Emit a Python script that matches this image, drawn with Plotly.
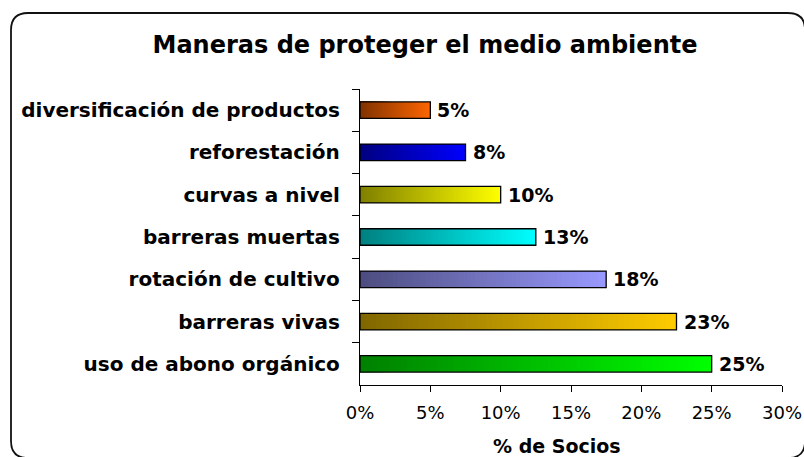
import plotly.graph_objects as go

# ---------------- data ----------------
categories = ["diversificación de productos", "reforestación", "curvas a nivel",
              "barreras muertas", "rotación de cultivo", "barreras vivas",
              "uso de abono orgánico"]
values = [0.05, 0.075, 0.10, 0.125, 0.175, 0.225, 0.25]
value_labels = ["5%", "8%", "10%", "13%", "18%", "23%", "25%"]
bar_colors = ["#FF6600", "#0000FF", "#FFFF00", "#00FFFF", "#9999FF", "#FFCC00", "#00FF00"]
x_tick_vals = [0, 0.05, 0.10, 0.15, 0.20, 0.25, 0.30]
x_tick_text = ["0%", "5%", "10%", "15%", "20%", "25%", "30%"]
title_text = "Maneras de proteger el medio ambiente"
x_title = "% de Socios"

# ---------------- layout constants ----------------
W, H = 804, 457
ML, MR, MT, MB = 360, 22, 89, 72
PW, PH = W - ML - MR, H - MT - MB
FONT = "DejaVu Sans"
BAR_W = 0.39
N_SEG = 60


def hex_rgb(h):
    h = h.lstrip("#")
    return tuple(int(h[i:i + 2], 16) for i in (0, 2, 4))


def grad_color(h, t):
    r, g, b = hex_rgb(h)
    f = 0.5 + 0.5 * t
    return "rgb(%d,%d,%d)" % (round(r * f), round(g * f), round(b * f))


fig = go.Figure()

# gradient: longest (lightest) first, shorter darker ones drawn on top
for k in range(N_SEG):
    frac = (N_SEG - k) / N_SEG
    t = (N_SEG - k - 0.5) / N_SEG
    fig.add_trace(go.Bar(
        y=categories,
        x=[v * frac for v in values],
        orientation="h",
        width=BAR_W,
        marker=dict(color=[grad_color(c, t) for c in bar_colors], line=dict(width=0)),
        hoverinfo="skip",
        showlegend=False,
    ))

# outline
fig.add_trace(go.Bar(
    y=categories,
    x=values,
    orientation="h",
    width=BAR_W,
    marker=dict(color="rgba(0,0,0,0)", line=dict(color="black", width=1.3)),
    hoverinfo="skip",
    showlegend=False,
))

# value labels
for cat, v, lab in zip(categories, values, value_labels):
    fig.add_annotation(x=v, y=cat, xref="x", yref="y", text="<b>%s</b>" % lab,
                       showarrow=False, xanchor="left", yanchor="middle", xshift=5,
                       font=dict(family=FONT, size=19, color="black"))

# axis title as annotation
fig.add_annotation(x=(557 - ML) / PW, y=(PH + MT - 446) / PH, xref="paper", yref="paper",
                   text="<b>%s</b>" % x_title, showarrow=False,
                   xanchor="center", yanchor="middle",
                   font=dict(family=FONT, size=19, color="black"))


# rounded frame
def p(px, py):
    return ((px - ML) / PW, (PH + MT - py) / PH)


def frame_path(x0, y0, x1, y1, r):
    pts = []
    def P(cmd, *xy):
        s = cmd
        for i in range(0, len(xy), 2):
            a, b = p(xy[i], xy[i + 1])
            s += " %.5f,%.5f" % (a, b)
        pts.append(s)
    P("M", x0 + r, y0)
    P("L", x1 - r, y0)
    P("Q", x1, y0, x1, y0 + r)
    P("L", x1, y1 - r)
    P("Q", x1, y1, x1 - r, y1)
    P("L", x0 + r, y1)
    P("Q", x0, y1, x0, y1 - r)
    P("L", x0, y0 + r)
    P("Q", x0, y0, x0 + r, y0)
    return " ".join(pts) + " Z"


fig.add_shape(type="path", xref="paper", yref="paper",
              path=frame_path(11, 13, 805, 458, 17),
              line=dict(color="#111111", width=1.8), fillcolor="rgba(0,0,0,0)",
              layer="above")

fig.update_layout(
    width=W, height=H, autosize=False,
    margin=dict(l=ML, r=MR, t=MT, b=MB, pad=0, autoexpand=False),
    paper_bgcolor="white", plot_bgcolor="white",
    barmode="overlay",
    title=dict(text="<b>%s</b>" % title_text, x=425 / W, xanchor="center",
               y=1 - 45 / H, yanchor="middle",
               font=dict(family=FONT, size=24, color="black")),
    xaxis=dict(range=[0, 0.30], tickvals=x_tick_vals, ticktext=x_tick_text,
               automargin=False,
               showgrid=False, zeroline=False, showline=True, linecolor="black",
               linewidth=1.3, ticks="outside", ticklen=6, tickwidth=1.3,
               tickcolor="black", ticklabelstandoff=5,
               tickfont=dict(family=FONT, size=18, color="black")),
    yaxis=dict(autorange="reversed", showgrid=False, zeroline=False, showline=True,
               automargin=False,
               linecolor="black", linewidth=1.3, ticks="outside", ticklen=7,
               tickwidth=1.3, tickcolor="black", tickson="boundaries",
               ticklabelstandoff=15,
               tickfont=dict(family=FONT, size=20, color="black"),
               tickprefix="<b>", ticksuffix="</b>"),
    font=dict(family=FONT, color="black"),
)

fig.write_html("out.html", config={"displayModeBar": False, "responsive": False},
               post_script="document.body.style.margin='0';document.body.style.overflow='hidden';")
